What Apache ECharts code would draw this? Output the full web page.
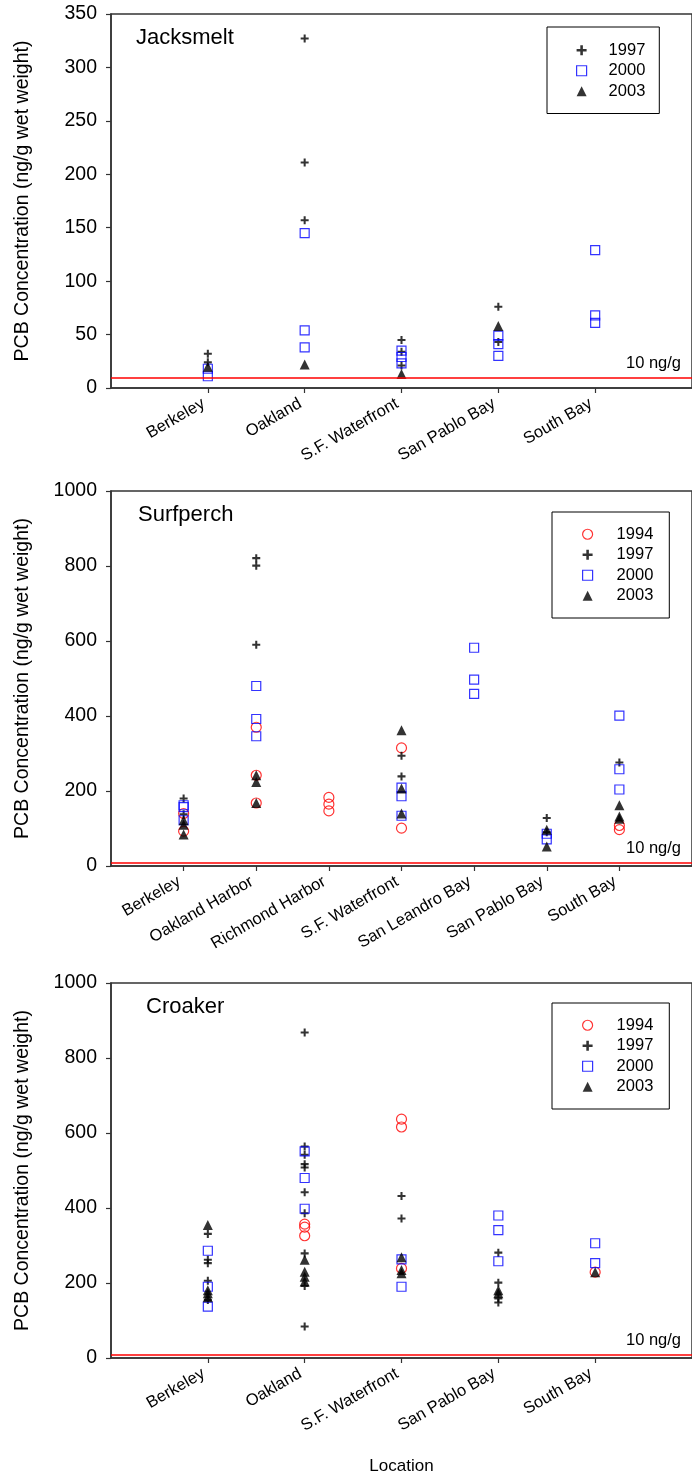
<!DOCTYPE html>
<html>
<head>
<meta charset="utf-8">
<script src="https://cdn.jsdelivr.net/npm/echarts@6/dist/echarts.min.js"></script>
<style>
  html, body { margin: 0; padding: 0; background: #fff; }
  #chart { width: 692px; height: 1479px; }
</style>
</head>
<body>
<div id="chart"></div>
<script>
// PCB concentrations (ng/g wet weight) by sampling location and year.
// Each year array holds one list of sample values per site, in site order.

const years = ['1994', '1997', '2000', '2003'];

const jacksmeltSites = ['Berkeley', 'Oakland', 'S.F. Waterfront', 'San Pablo Bay', 'South Bay'];
const jacksmelt1997 = [[32, 24], [327, 211, 157], [45, 34, 21], [76, 43], []];
const jacksmelt2000 = [[18, 11], [145, 54, 38], [35, 29, 23], [49, 41, 30], [129, 68, 61]];
const jacksmelt2003 = [[20], [22], [13], [58], []];
const jacksmeltTicks = [0, 50, 100, 150, 200, 250, 300, 350];

const surfperchSites = ['Berkeley', 'Oakland Harbor', 'Richmond Harbor', 'S.F. Waterfront',
  'San Leandro Bay', 'San Pablo Bay', 'South Bay'];
const surfperch1994 = [[140, 93], [370, 242, 168], [183, 165, 147], [315, 101], [], [], [108, 97]];
const surfperch1997 = [[180, 138], [821, 801, 590], [], [294, 239], [], [128, 90], [276]];
const surfperch2000 = [[162, 157, 122], [480, 392, 346], [], [209, 186, 134], [582, 497, 459], [86, 71], [401, 258, 204]];
const surfperch2003 = [[122, 110, 84], [242, 224, 168], [], [362, 207, 140], [], [97, 52], [162, 132, 126]];
const surfperchTicks = [0, 200, 400, 600, 800, 1000];

const croakerSites = ['Berkeley', 'Oakland', 'S.F. Waterfront', 'San Pablo Bay', 'South Bay'];
const croaker1994 = [[], [357, 349, 326], [637, 616, 239], [], [229]];
const croaker1997 = [[331, 262, 253, 206, 155], [868, 564, 542, 517, 508, 442, 386, 279, 192, 84],
  [432, 372], [281, 201, 159, 148], []];
const croaker2000 = [[286, 190, 137], [551, 480, 398], [263, 190], [380, 341, 258], [306, 253]];
const croaker2003 = [[355, 181, 173, 162], [262, 230, 217, 204], [269, 235, 226], [181, 173], [229]];
const croakerTicks = [0, 200, 400, 600, 800, 1000];

const threshold = 10;
const thresholdLabel = '10 ng/g';
const yAxisTitle = 'PCB Concentration (ng/g wet weight)';
const xAxisTitle = 'Location';

// ---- presentation ----
const FONT = '"Liberation Sans", Arial, sans-serif';
const AXIS_COLOR = '#333';
const ICON = 10;

const plusPath = 'path://M2.6,0h1.8v2.6h2.6v1.8h-2.6v2.6h-1.8v-2.6h-2.6v-1.8h2.6z';
const yearStyle = {
  '1994': { symbol: 'circle', symbolSize: 10,
            itemStyle: { color: 'transparent', borderColor: '#ff0000', borderWidth: 1.2 } },
  '1997': { symbol: plusPath, symbolSize: 8, itemStyle: { color: '#000', borderWidth: 0 } },
  '2000': { symbol: 'rect', symbolSize: 9,
            itemStyle: { color: 'transparent', borderColor: '#0000ff', borderWidth: 1.2 } },
  '2003': { symbol: 'triangle', symbolSize: 10, itemStyle: { color: '#000', borderWidth: 0 } }
};

// legend: box position, icon centre offset from box left, text offset from box left
const panels = [
  { title: 'Jacksmelt', sites: jacksmeltSites, ticks: jacksmeltTicks,
    byYear: { '1997': jacksmelt1997, '2000': jacksmelt2000, '2003': jacksmelt2003 },
    grid: { top: 14, height: 374 }, titlePos: { left: 136, top: 27 },
    legendBox: { left: 547, top: 27, width: 112, vpad: [13, 12], iconX: 34, textX: 61 } },
  { title: 'Surfperch', sites: surfperchSites, ticks: surfperchTicks,
    byYear: { '1994': surfperch1994, '1997': surfperch1997, '2000': surfperch2000, '2003': surfperch2003 },
    grid: { top: 491, height: 375 }, titlePos: { left: 138, top: 504 },
    legendBox: { left: 552, top: 512, width: 117, vpad: [12, 12], iconX: 35, textX: 64 } },
  { title: 'Croaker', sites: croakerSites, ticks: croakerTicks,
    byYear: { '1994': croaker1994, '1997': croaker1997, '2000': croaker2000, '2003': croaker2003 },
    grid: { top: 983, height: 375 }, titlePos: { left: 146, top: 996 },
    legendBox: { left: 552, top: 1003, width: 117, vpad: [12, 12], iconX: 35, textX: 64 } }
];

function toPoints(groups) {
  return groups.flatMap((vals, i) => vals.map(v => [i + 1, v]));
}

const option = {
  animation: false,
  backgroundColor: '#fff',
  textStyle: { fontFamily: FONT },
  title: [], grid: [], xAxis: [], yAxis: [], legend: [], series: []
};

panels.forEach((p, idx) => {
  const siteSlots = p.sites.map((_, i) => i + 1);
  const panelYears = years.filter(y => p.byYear[y]);

  option.title.push({
    text: p.title, left: p.titlePos.left, top: p.titlePos.top, padding: 0,
    textStyle: { fontFamily: FONT, fontSize: 22, fontWeight: 'normal', color: '#000' }
  });

  option.grid.push({
    left: 111, width: 584, top: p.grid.top, height: p.grid.height,
    show: true, borderColor: AXIS_COLOR, borderWidth: 1.5, backgroundColor: 'transparent'
  });

  option.xAxis.push({
    gridIndex: idx, type: 'value', min: 0, max: p.sites.length + 1, interval: 1,
    splitLine: { show: false },
    axisLine: { onZero: false, lineStyle: { color: AXIS_COLOR, width: 1.5 } },
    axisTick: { customValues: siteSlots, length: 5, lineStyle: { color: AXIS_COLOR, width: 1.2 } },
    axisLabel: {
      customValues: siteSlots, formatter: v => p.sites[v - 1] || '',
      rotate: 30, margin: 12, padding: [0, 5, 0, 0],
      fontSize: 16.5, color: '#000', fontFamily: FONT
    },
    name: idx === panels.length - 1 ? xAxisTitle : '',
    nameLocation: 'middle', nameGap: 100,
    nameTextStyle: { fontSize: 17, color: '#000', fontFamily: FONT }
  });

  const t = p.ticks;
  option.yAxis.push({
    gridIndex: idx, type: 'value', min: t[0], max: t[t.length - 1], interval: t[1] - t[0],
    splitLine: { show: false },
    axisLine: { show: true, lineStyle: { color: AXIS_COLOR, width: 1.5 } },
    axisTick: { show: true, length: 5, lineStyle: { color: AXIS_COLOR, width: 1.2 } },
    axisLabel: { margin: 14, fontSize: 19.5, color: '#000', fontFamily: FONT,
                 formatter: v => String(v) },
    name: yAxisTitle, nameLocation: 'middle', nameGap: 78, nameRotate: 90,
    nameTextStyle: { fontSize: 19.5, color: '#000', fontFamily: FONT }
  });

  const lb = p.legendBox;
  const padLeft = lb.iconX - ICON / 2;
  const textPad = lb.textX - (padLeft + ICON + 5);
  option.legend.push({
    data: panelYears, orient: 'vertical', selectedMode: false,
    left: lb.left, top: lb.top,
    padding: [lb.vpad[0], 0, lb.vpad[1], padLeft],
    width: lb.width,
    itemWidth: ICON, itemHeight: ICON, itemGap: 0,
    itemStyle: { borderWidth: 1.2 },
    borderColor: '#000', borderWidth: 1, backgroundColor: '#fff',
    textStyle: {
      fontSize: 16.5, lineHeight: 20.5, color: '#000', fontFamily: FONT,
      padding: [0, lb.width - lb.textX - 37, 0, textPad]
    }
  });

  panelYears.forEach((y, k) => {
    const s = {
      type: 'scatter', name: y, xAxisIndex: idx, yAxisIndex: idx,
      data: toPoints(p.byYear[y]),
      symbol: yearStyle[y].symbol, symbolSize: yearStyle[y].symbolSize,
      itemStyle: yearStyle[y].itemStyle,
      emphasis: { disabled: true }
    };
    if (k === 0) {
      s.markLine = {
        silent: true, symbol: 'none', animation: false,
        data: [{ yAxis: threshold }],
        lineStyle: { color: '#ff0000', width: 1.5, type: 'solid' },
        label: {
          show: true, position: 'insideEndTop', formatter: thresholdLabel,
          color: '#000', fontSize: 16.5, fontFamily: FONT, distance: [11, 5]
        },
        emphasis: { disabled: true }
      };
    }
    option.series.push(s);
  });
});

const chart = echarts.init(document.getElementById('chart'), null, { renderer: 'canvas' });
chart.setOption(option);
</script>
</body>
</html>
